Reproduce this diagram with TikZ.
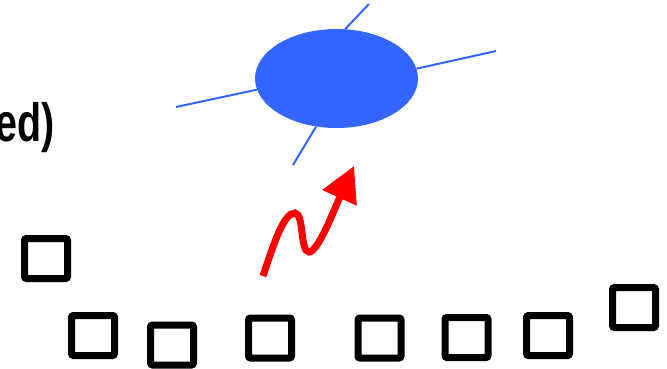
\documentclass[tikz,border=0pt]{standalone}
\usepackage{fontspec}
\setmainfont{Liberation Sans}
\usetikzlibrary{shapes.geometric,arrows.meta}
\definecolor{molblue}{RGB}{51,102,255}
\begin{document}
\begin{tikzpicture}[x=1pt,y=-1pt,
  cellbox/.style={draw,line width=7pt,rounded corners=2pt,minimum width=43pt,minimum height=40pt,inner sep=0pt},
  molecule/.style={ellipse,fill=molblue,minimum width=163pt,minimum height=99pt,inner sep=0pt},
  leg/.style={molblue,line width=2pt},
  photon/.style={red,line width=7pt,-{Triangle[length=35pt,width=36pt]}}]

\useasboundingbox (0,0) rectangle (667,369);

% Texte coupe a gauche
\node[anchor=base west,inner sep=0pt] (label) at (-5,141)
  {\scalebox{0.73}[1]{\fontsize{54}{60}\selectfont\bfseries ed)}};

% Molecule et ses pattes
\node[molecule] (mol) at (336.5,78.5) {};
\coordinate (legN) at (369,4);
\coordinate (legS) at (293,165);
\coordinate (legW) at (176,107);
\coordinate (legE) at (496,51);
\draw[leg] (legN) -- (mol.80);
\draw[leg] (legS) -- (mol.247.5);
\draw[leg] (legW) -- (mol.188.9);
\draw[leg] (legE) -- (mol.7.4);

% Photon
\coordinate (tail) at (263,276);
\coordinate (tip) at (354,166);
\draw[photon] (tail) .. controls (275,240) and (284,213) .. (295,213)
  .. controls (304,213) and (300,252) .. (309,252)
  .. controls (318,252) and (334,210) .. (tip);

% Sites de la surface
\node[cellbox] (b1) at (46,258.5) {};
\node[cellbox] (b2) at (93,335.5) {};
\node[cellbox] (b3) at (172,345) {};
\node[cellbox] (b4) at (270,338) {};
\node[cellbox] (b5) at (379.5,338) {};
\node[cellbox] (b6) at (466.5,337.5) {};
\node[cellbox] (b7) at (548,335.5) {};
\node[cellbox] (b8) at (634,307.5) {};

\end{tikzpicture}
\end{document}
